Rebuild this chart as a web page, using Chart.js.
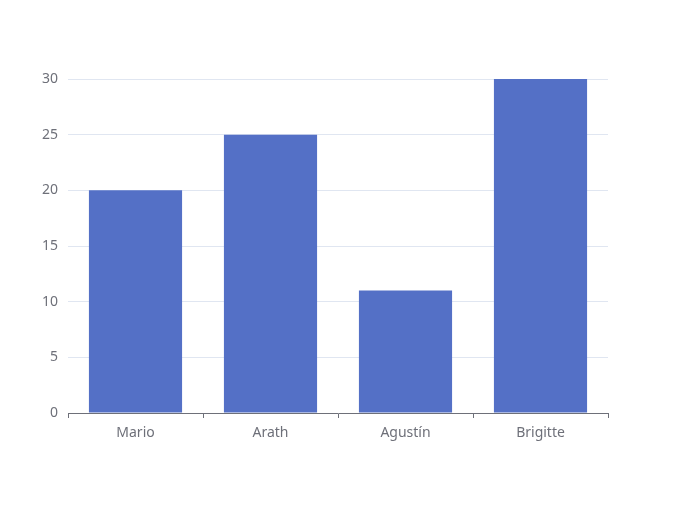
<!DOCTYPE html>
<html>
<head>
<meta charset="utf-8">
<script src="https://cdn.jsdelivr.net/npm/chart.js@4"></script>
<style>
  html, body { margin: 0; padding: 0; background: #fff; }
  #wrap { width: 675px; height: 506px; }
</style>
</head>
<body>
<div id="wrap"><canvas id="mycanvas"></canvas></div>
<script>
var names = ['Mario', 'Arath', 'Agustín', 'Brigitte'];
var counts = [20, 25, 11, 30];
var yTicks = [0, 5, 10, 15, 20, 25, 30];

var ctx = document.getElementById('mycanvas');

var barGraph = new Chart(ctx, {
	type: 'bar',
	data: {
		labels: names,
		datasets: [
			{
				label: 'count',
				backgroundColor: '#5470c6',
				borderWidth: 0,
				barPercentage: 0.69,
				categoryPercentage: 1,
				data: counts
			}
		]
	},
	options: {
		responsive: true,
		maintainAspectRatio: false,
		animation: false,
		layout: { padding: { top: 79, right: 67, bottom: 0, left: 0 } },
		plugins: {
			legend: { display: false },
			tooltip: { enabled: false }
		},
		scales: {
			x: {
				offset: true,
				grid: {
					offset: true,
					drawOnChartArea: false,
					drawTicks: true,
					tickLength: 5,
					color: '#6E7079'
				},
				border: { color: '#6E7079', width: 1, z: 1 },
				ticks: {
					color: '#6E7079',
					padding: 7,
					font: { family: 'Noto Sans', size: 14 }
				},
				afterFit: function(axis) { axis.height = 93; }
			},
			y: {
				min: 0,
				max: 30,
				afterBuildTicks: function(axis) {
					axis.ticks = yTicks.map(function(v) { return { value: v }; });
				},
				grid: {
					// the zero line is covered by the x axis line
					color: function(c) { return c.tick && c.tick.value === 0 ? 'rgba(0,0,0,0)' : '#E0E6F1'; },
					drawTicks: false
				},
				border: { display: false },
				ticks: {
					color: '#6E7079',
					padding: 10,
					font: { family: 'Noto Sans', size: 14 }
				},
				afterFit: function(axis) { axis.width = 68; }
			}
		}
	}
});
</script>
</body>
</html>
